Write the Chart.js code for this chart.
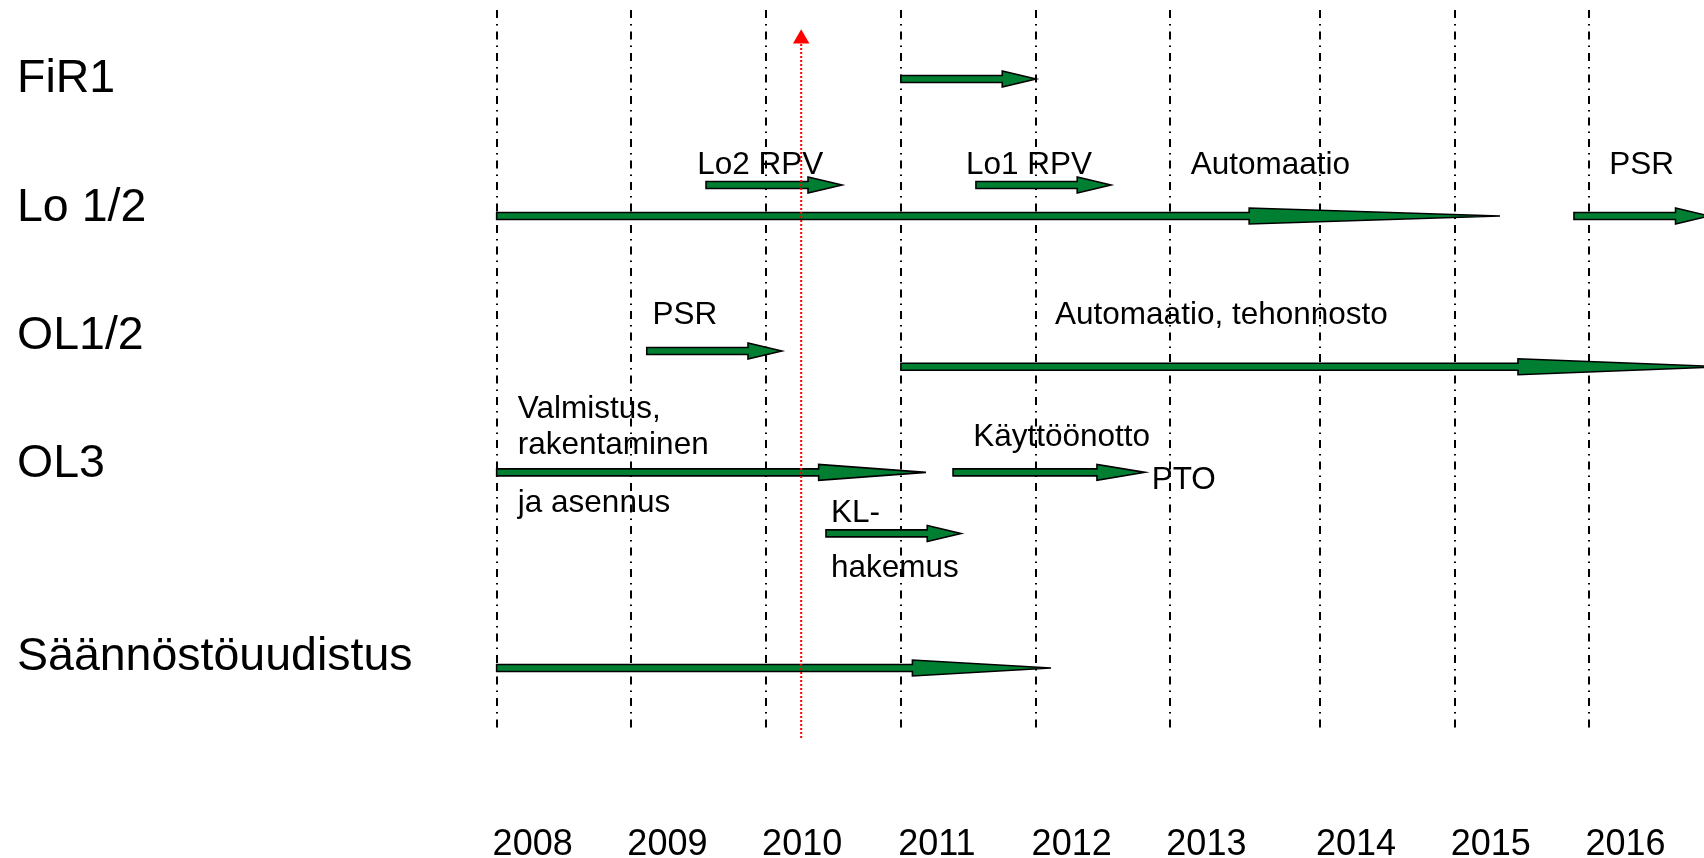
<!DOCTYPE html>
<html>
<head>
<meta charset="utf-8">
<style>
  html, body { margin: 0; padding: 0; background: #ffffff; }
  #wrap { width: 1704px; height: 858px; position: relative; }
  canvas { display: block; }
</style>
<script src="https://cdn.jsdelivr.net/npm/chart.js@4.4.1/dist/chart.umd.min.js"></script>
</head>
<body>
<div id="wrap"><canvas id="c" width="1704" height="858"></canvas></div>
<script>
// ---- Data ----
// Rows and their positions on the vertical (row) axis
const rowLabels = ['FiR1', 'Lo 1/2', 'OL1/2', 'OL3', 'Säännöstöuudistus'];
const rowPos = [0, 1, 2, 3, 4.5];

// Year gridlines as drawn, and their labels
const gridYears = [2008, 2009, 2010, 2011, 2012, 2013, 2014.11, 2015.11, 2016.11];
const yearLabels = ['2008', '2009', '2010', '2011', '2012', '2013', '2014', '2015', '2016'];

// Arrows: start year, end year, row position
const arrowStart = [2011.0, 2009.554, 2011.557, 2008.0, 2015.995, 2009.114, 2011.0, 2008.0, 2011.387, 2010.444, 2008.0];
const arrowEnd   = [2012.003, 2010.563, 2012.559, 2015.446, 2017.0, 2010.116, 2017.106, 2011.186, 2012.811, 2011.446, 2012.114];
const arrowRow   = [0.023, 0.85, 0.85, 1.091, 1.091, 2.143, 2.266, 3.089, 3.089, 3.565, 4.614];

// Text notes: text, year, row position
const noteText = ['Lo2 RPV', 'Lo1 RPV', 'Automaatio', 'PSR', 'PSR', 'Automaatio, tehonnosto',
                  'Valmistus,', 'rakentaminen', 'ja asennus', 'Käyttöönotto', 'PTO', 'KL-', 'hakemus'];
const noteYear = [2009.489, 2011.483, 2013.151, 2016.257, 2009.156, 2012.144,
                  2008.157, 2008.157, 2008.157, 2011.537, 2012.861, 2010.481, 2010.481];
const noteRow  = [0.674, 0.674, 0.674, 0.674, 1.844, 1.844,
                  2.575, 2.857, 3.31, 2.798, 3.133, 3.39, 3.82];

// "Now" marker
const nowYear = 2010.26;
const nowSpan = [5.16, -0.29];

// ---- Styling ----
const FONT = "'Liberation Sans', Arial, Helvetica, sans-serif";
const GREEN = 'rgb(0,127,51)';
const NOTE_SIZE = 31.5;
Chart.defaults.font.family = FONT;
Chart.defaults.color = '#000';

const arrowPlugin = {
  id: 'arrows',
  beforeDatasetsDraw(chart) {
    const ctx = chart.ctx;
    const meta = chart.getDatasetMeta(0);
    ctx.save();
    meta.data.forEach(el => {
      const p = el.getProps(['x', 'y', 'base'], true);
      const x0 = Math.min(p.x, p.base), x1 = Math.max(p.x, p.base);
      const y = p.y;
      const hl = (x1 - x0) * 0.25;
      const sh = 3.5, hh = 8;
      ctx.beginPath();
      ctx.moveTo(x0, y - sh);
      ctx.lineTo(x1 - hl, y - sh);
      ctx.lineTo(x1 - hl, y - hh);
      ctx.lineTo(x1, y);
      ctx.lineTo(x1 - hl, y + hh);
      ctx.lineTo(x1 - hl, y + sh);
      ctx.lineTo(x0, y + sh);
      ctx.closePath();
      ctx.fillStyle = GREEN;
      ctx.fill();
      ctx.lineWidth = 1.6;
      ctx.strokeStyle = '#000';
      ctx.lineJoin = 'miter';
      ctx.stroke();
    });
    ctx.restore();
  }
};

const notePlugin = {
  id: 'notes',
  beforeDatasetsDraw(chart) {
    const ctx = chart.ctx;
    const xs = chart.scales.x, ys = chart.scales.y;
    ctx.save();
    ctx.font = NOTE_SIZE + 'px ' + FONT;
    ctx.fillStyle = '#000';
    ctx.textAlign = 'left';
    ctx.textBaseline = 'alphabetic';
    noteText.forEach((t, i) => {
      ctx.fillText(t, xs.getPixelForValue(noteYear[i]), ys.getPixelForValue(noteRow[i]) + 0.358 * NOTE_SIZE);
    });
    ctx.restore();
  }
};

new Chart(document.getElementById('c'), {
  type: 'line',
  data: {
    datasets: [{
      type: 'bar',
      indexAxis: 'y',
      data: arrowStart.map((s, i) => ({ x: [s, arrowEnd[i]], y: arrowRow[i] })),
      backgroundColor: 'rgba(0,0,0,0)',
      borderWidth: 0,
      barThickness: 8
    }, {
      type: 'line',
      data: [{ x: nowYear, y: nowSpan[0] }, { x: nowYear, y: nowSpan[1] }],
      borderColor: '#ff0000',
      borderWidth: 2,
      borderDash: [2, 2],
      pointRadius: [0, 9.5],
      pointStyle: 'triangle',
      pointBackgroundColor: '#ff0000',
      pointBorderColor: '#ff0000',
      pointBorderWidth: 0,
      fill: false,
      tension: 0,
      clip: false
    }]
  },
  options: {
    responsive: false,
    animation: false,
    events: [],
    layout: { autoPadding: false, padding: { left: 17, top: 10, right: 0, bottom: 0 } },
    plugins: { legend: { display: false }, tooltip: { enabled: false } },
    scales: {
      x: {
        type: 'linear',
        min: 2007.728,
        max: 2016.96,
        offset: false,
        afterBuildTicks: s => { s.ticks = gridYears.map(v => ({ value: v })); },
        afterFit: s => { s.height = 127; s.paddingLeft = 0; s.paddingRight = 0; },
        grid: { color: '#000', lineWidth: 2, drawTicks: false, offset: false },
        border: { display: false, dash: [8, 6, 1.5, 6] },
        ticks: {
          autoSkip: false, maxRotation: 0, minRotation: 0,
          labelOffset: 36, padding: 98.5, color: '#000',
          font: { size: 36, lineHeight: 0.89 },
          callback: (v, i) => yearLabels[i]
        }
      },
      y: {
        type: 'linear',
        reverse: true,
        min: -0.5144,
        max: 5.105,
        offset: false,
        beginAtZero: false,
        afterBuildTicks: s => { s.ticks = rowPos.map(v => ({ value: v })); },
        afterFit: s => { s.width = 443; s.paddingTop = 0; s.paddingBottom = 0; },
        grid: { display: false, offset: false },
        border: { display: false },
        ticks: {
          autoSkip: false, crossAlign: 'far', padding: 0, color: '#000',
          labelOffset: 3.5,
          font: { size: 46.5 },
          callback: (v, i) => rowLabels[i]
        }
      }
    }
  },
  plugins: [arrowPlugin, notePlugin]
});
</script>
</body>
</html>
